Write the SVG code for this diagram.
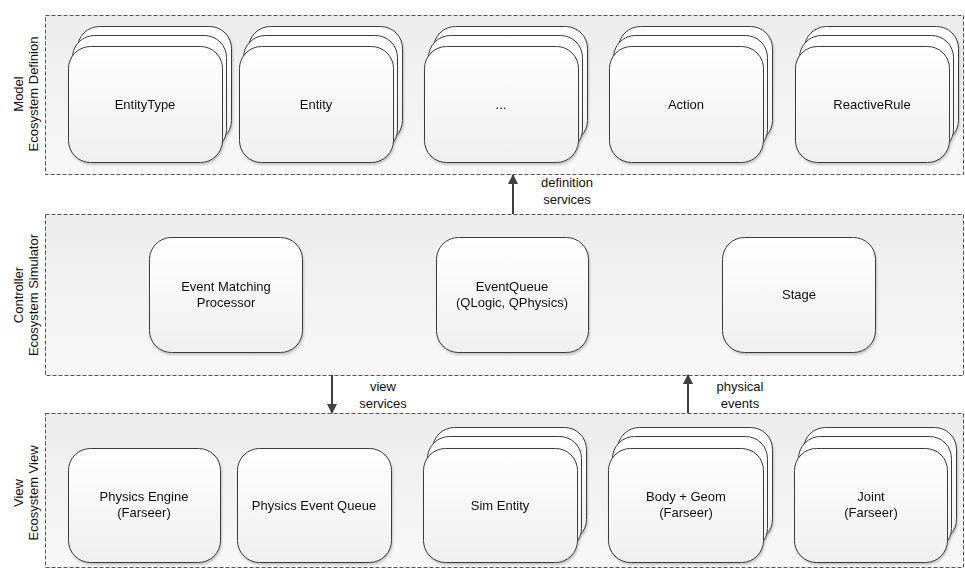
<svg xmlns="http://www.w3.org/2000/svg" width="965" height="569" viewBox="0 0 965 569">
<defs>
<linearGradient id="panelGrad" x1="0" y1="0" x2="0" y2="1">
<stop offset="0" stop-color="#ececec"/>
<stop offset="1" stop-color="#f8f8f8"/>
</linearGradient>
<linearGradient id="cardGrad" x1="0" y1="0" x2="0" y2="1">
<stop offset="0" stop-color="#ffffff"/>
<stop offset="1" stop-color="#efefef"/>
</linearGradient>
<filter id="shadow" x="-10%" y="-10%" width="120%" height="130%">
<feDropShadow dx="1" dy="2" stdDeviation="1.2" flood-color="#000" flood-opacity="0.2"/>
</filter>
<marker id="arrow" markerWidth="10" markerHeight="10" refX="9" refY="5" orient="auto" markerUnits="userSpaceOnUse">
<path d="M0,0 L10,5 L0,10 Z" fill="#404040"/>
</marker>
</defs>
<style>
.panel{fill:url(#panelGrad);stroke:#555;stroke-width:1;stroke-dasharray:4 2}
.card{fill:url(#cardGrad);stroke:#3a3a3a;stroke-width:1}
.txt{font-family:"Liberation Sans",Arial,sans-serif;font-size:13px;fill:#111;text-anchor:middle}
.conn{stroke:#404040;stroke-width:2;fill:none}
</style>

<g id="panels">
<rect class="panel" x="45.5" y="15.5" width="918" height="159"/>
<rect class="panel" x="45.5" y="214.5" width="918" height="161"/>
<rect class="panel" x="45.5" y="413.5" width="918" height="154"/>
</g>

<g id="panel-labels">
<text class="txt" transform="translate(23,94) rotate(-90)">Model</text>
<text class="txt" transform="translate(38,94) rotate(-90)">Ecosystem Definion</text>
<text class="txt" transform="translate(23,295) rotate(-90)">Controller</text>
<text class="txt" transform="translate(38,295) rotate(-90)">Ecosystem Simulator</text>
<text class="txt" transform="translate(23,493) rotate(-90)">View</text>
<text class="txt" transform="translate(38,493) rotate(-90)">Ecosystem View</text>
</g>

<g id="node-entitytype" filter="url(#shadow)">
<rect class="card" x="77.5" y="26.5" width="154" height="116" rx="22"/>
<rect class="card" x="72.5" y="35.5" width="154" height="116" rx="22"/>
<rect class="card" x="68.5" y="46.5" width="154" height="116" rx="22"/>
<text class="txt" x="145" y="109">EntityType</text>
</g>
<g id="node-entity" filter="url(#shadow)">
<rect class="card" x="248.5" y="26.5" width="154" height="116" rx="22"/>
<rect class="card" x="243.5" y="35.5" width="154" height="116" rx="22"/>
<rect class="card" x="239.5" y="46.5" width="154" height="116" rx="22"/>
<text class="txt" x="316" y="109">Entity</text>
</g>
<g id="node-etc" filter="url(#shadow)">
<rect class="card" x="433.5" y="26.5" width="154" height="116" rx="22"/>
<rect class="card" x="428.5" y="35.5" width="154" height="116" rx="22"/>
<rect class="card" x="424.5" y="46.5" width="154" height="116" rx="22"/>
<text class="txt" x="501" y="109">...</text>
</g>
<g id="node-action" filter="url(#shadow)">
<rect class="card" x="618.5" y="26.5" width="154" height="116" rx="22"/>
<rect class="card" x="613.5" y="35.5" width="154" height="116" rx="22"/>
<rect class="card" x="609.5" y="46.5" width="154" height="116" rx="22"/>
<text class="txt" x="686" y="109">Action</text>
</g>
<g id="node-reactiverule" filter="url(#shadow)">
<rect class="card" x="804.5" y="26.5" width="154" height="116" rx="22"/>
<rect class="card" x="799.5" y="35.5" width="154" height="116" rx="22"/>
<rect class="card" x="795.5" y="46.5" width="154" height="116" rx="22"/>
<text class="txt" x="872" y="109">ReactiveRule</text>
</g>

<g id="node-eventmatching" filter="url(#shadow)">
<rect class="card" x="149.5" y="237.5" width="153" height="115" rx="22"/>
<text class="txt" x="226" y="291">Event Matching</text>
<text class="txt" x="226" y="307">Processor</text>
</g>
<g id="node-eventqueue" filter="url(#shadow)">
<rect class="card" x="436.5" y="237.5" width="152" height="115" rx="22"/>
<text class="txt" x="512" y="291">EventQueue</text>
<text class="txt" x="512" y="307">(QLogic, QPhysics)</text>
</g>
<g id="node-stage" filter="url(#shadow)">
<rect class="card" x="722.5" y="237.5" width="153" height="115" rx="22"/>
<text class="txt" x="799" y="299">Stage</text>
</g>

<g id="node-physicsengine" filter="url(#shadow)">
<rect class="card" x="68.5" y="448.5" width="152" height="114" rx="22"/>
<text class="txt" x="144" y="501">Physics Engine</text>
<text class="txt" x="144" y="517">(Farseer)</text>
</g>
<g id="node-physicseventqueue" filter="url(#shadow)">
<rect class="card" x="237.5" y="448.5" width="154" height="114" rx="22"/>
<text class="txt" x="314" y="510">Physics Event Queue</text>
</g>
<g id="node-simentity" filter="url(#shadow)">
<rect class="card" x="432.5" y="427.5" width="154" height="114" rx="22"/>
<rect class="card" x="427.5" y="436.5" width="154" height="114" rx="22"/>
<rect class="card" x="423.5" y="448.5" width="154" height="114" rx="22"/>
<text class="txt" x="500" y="510">Sim Entity</text>
</g>
<g id="node-bodygeom" filter="url(#shadow)">
<rect class="card" x="617.5" y="427.5" width="155" height="114" rx="22"/>
<rect class="card" x="612.5" y="436.5" width="155" height="114" rx="22"/>
<rect class="card" x="608.5" y="448.5" width="155" height="114" rx="22"/>
<text class="txt" x="686" y="501">Body + Geom</text>
<text class="txt" x="686" y="517">(Farseer)</text>
</g>
<g id="node-joint" filter="url(#shadow)">
<rect class="card" x="803.5" y="427.5" width="153" height="114" rx="22"/>
<rect class="card" x="798.5" y="436.5" width="153" height="114" rx="22"/>
<rect class="card" x="794.5" y="448.5" width="153" height="114" rx="22"/>
<text class="txt" x="871" y="501">Joint</text>
<text class="txt" x="871" y="517">(Farseer)</text>
</g>

<g id="connectors">
<line class="conn" x1="513" y1="214" x2="513" y2="175" marker-end="url(#arrow)"/>
<text class="txt" x="567" y="187">definition</text>
<text class="txt" x="567" y="204">services</text>
<line class="conn" x1="332" y1="375" x2="332" y2="413" marker-end="url(#arrow)"/>
<text class="txt" x="383" y="391">view</text>
<text class="txt" x="383" y="408">services</text>
<line class="conn" x1="688" y1="413" x2="688" y2="375" marker-end="url(#arrow)"/>
<text class="txt" x="740" y="391">physical</text>
<text class="txt" x="740" y="408">events</text>
</g>
</svg>
